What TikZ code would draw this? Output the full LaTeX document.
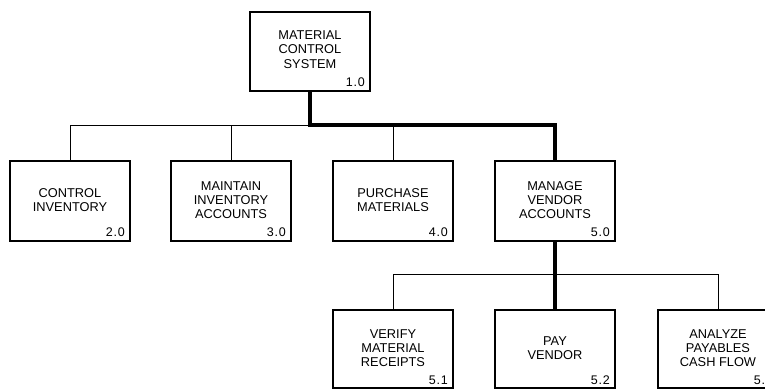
\documentclass[tikz,border=0pt]{standalone}
\usepackage{fontspec}
\setmainfont{Liberation Sans}
\newfontfamily\numfont[LetterSpace=6]{Liberation Sans}
\begin{document}
\begin{tikzpicture}[x=1pt,y=-1pt,
  procbox/.style={draw, line width=2pt, minimum width=120pt, minimum height=#1, inner sep=0pt},
  procbox/.default=80pt,
  proctext/.style={align=center, font=\fontsize{12.8}{14.2}\selectfont, inner sep=0pt},
  procnum/.style={anchor=base east, font=\numfont\fontsize{12.5}{14}\selectfont, inner sep=0pt},
  thinline/.style={line width=1pt},
  thickline/.style={line width=3.5pt, line join=miter}]
\path[use as bounding box] (0,0) rectangle (765,391);
\clip (0,0) rectangle (765,391);

% process boxes
\node[procbox=79pt] (top) at (310,51.5) {};
\node[procbox] (b2) at (70,201) {};
\node[procbox] (b3) at (231,201) {};
\node[procbox] (b4) at (393,201) {};
\node[procbox] (b5) at (555,201) {};
\node[procbox=78pt] (b51) at (393,349) {};
\node[procbox=78pt] (b52) at (555,349) {};
\node[procbox=78pt] (b53) at (718,349) {};

% box titles
\node[proctext] (t1)  at ([yshift=2pt]top.center) {MATERIAL\\CONTROL\\SYSTEM};
\node[proctext] (t2)  at ([yshift=1pt]b2.center)  {CONTROL\\INVENTORY};
\node[proctext] (t3)  at ([yshift=1pt]b3.center)  {MAINTAIN\\INVENTORY\\ACCOUNTS};
\node[proctext] (t4)  at ([yshift=1pt]b4.center)  {PURCHASE\\MATERIALS};
\node[proctext] (t5)  at ([yshift=1pt]b5.center)  {MANAGE\\VENDOR\\ACCOUNTS};
\node[proctext] (t51) at ([yshift=1pt]b51.center) {VERIFY\\MATERIAL\\RECEIPTS};
\node[proctext] (t52) at ([yshift=1pt]b52.center) {PAY\\VENDOR};
\node[proctext] (t53) at ([yshift=1pt]b53.center) {ANALYZE\\PAYABLES\\CASH FLOW};

% process numbers
\node[procnum] (n1)  at ([xshift=-6pt,yshift=6pt]top.south east) {1.0};
\node[procnum] (n2)  at ([xshift=-6pt,yshift=6pt]b2.south east)  {2.0};
\node[procnum] (n3)  at ([xshift=-6pt,yshift=6pt]b3.south east)  {3.0};
\node[procnum] (n4)  at ([xshift=-6pt,yshift=6pt]b4.south east)  {4.0};
\node[procnum] (n5)  at ([xshift=-6pt,yshift=6pt]b5.south east)  {5.0};
\node[procnum] (n51) at ([xshift=-6pt,yshift=5pt]b51.south east) {5.1};
\node[procnum] (n52) at ([xshift=-6pt,yshift=5pt]b52.south east) {5.2};
\node[procnum] (n53) at ([xshift=-6pt,yshift=5pt]b53.south east) {5.3};

% bus levels
\coordinate (bus1) at (0,125);
\coordinate (bus2) at (0,274);

% first level connectors
\draw[thinline] (b2.north) -- (b2.north |- bus1) -- (top.south |- bus1);
\draw[thinline] (b3.north) -- (b3.north |- bus1);
\draw[thinline] (b4.north) -- (b4.north |- bus1);
\draw[thickline] (top.south) -- (top.south |- bus1) -- (b5.north |- bus1) -- (b5.north);

% second level connectors
\draw[thinline] (b51.north) -- (b51.north |- bus2) -- (b53.north |- bus2) -- (b53.north);
\draw[thickline] (b5.south) -- (b52.north);
\end{tikzpicture}
\end{document}
